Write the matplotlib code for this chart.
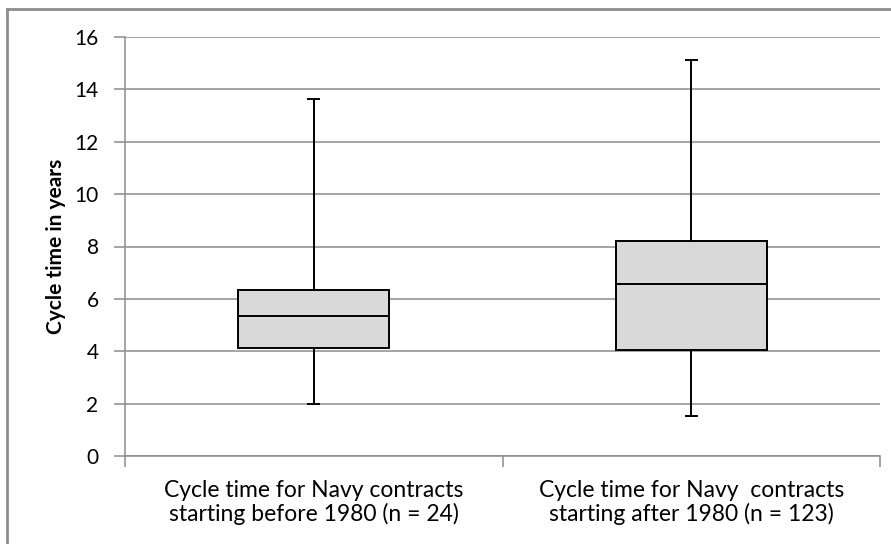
import matplotlib; matplotlib.use("Agg")
import matplotlib.pyplot as plt
from matplotlib.lines import Line2D

categories = ["Cycle time for Navy contracts\nstarting before 1980 (n = 24)",
              "Cycle time for Navy  contracts\nstarting after 1980 (n = 123)"]
whislo = [2.0, 1.52]
q1 = [4.13, 4.05]
med = [5.35, 6.57]
q3 = [6.34, 8.22]
whishi = [13.62, 15.12]

plt.rcParams['font.family'] = ['Lato', 'DejaVu Sans']
GRID = "#8c8c8c"

fig = plt.figure(figsize=(8.91, 5.44), dpi=100)
ax = fig.add_axes([125/891, 1-456/544, 755/891, 419/544])

stats = [dict(whislo=a, q1=b, med=c, q3=d, whishi=e, label=l)
         for a, b, c, d, e, l in zip(whislo, q1, med, q3, whishi, categories)]
pos = [0.5 + i for i in range(len(stats))]
ax.bxp(stats, positions=pos, widths=0.40, showfliers=False, patch_artist=True,
       boxprops=dict(facecolor="#d9d9d9", edgecolor="black", linewidth=1.4),
       medianprops=dict(color="black", linewidth=1.4),
       whiskerprops=dict(color="black", linewidth=1.4),
       capprops=dict(color="black", linewidth=1.4), capwidths=0.028, zorder=3)

ax.set_xlim(0, 2)
ax.set_ylim(0, 16)
ax.set_yticks(range(0, 17, 2))
ax.yaxis.grid(True, color=GRID, linewidth=1.1)
ax.set_axisbelow(True)
ax.set_xticks(pos)
ax.set_xticklabels(categories, fontsize=16.5, linespacing=1.1)
ax.set_xticks([0, 1, 2], minor=True)
ax.tick_params(axis="x", which="major", length=0, pad=17)
ax.tick_params(axis="x", which="minor", length=8, color=GRID, width=1.1)
ax.tick_params(axis="y", length=8, color=GRID, width=1.1, labelsize=15, pad=11)
for s in ["top", "right"]:
    ax.spines[s].set_visible(False)
for s in ["left", "bottom"]:
    ax.spines[s].set_color(GRID)
    ax.spines[s].set_linewidth(1.1)
ax.set_ylabel("Cycle time in years", fontsize=15, fontweight="bold", labelpad=6)

# outer chart frame (cropped)
fig.add_artist(Line2D([7/891, 1], [1-9/544, 1-9/544], color="#8c8c8c", linewidth=2))
fig.add_artist(Line2D([7/891, 7/891], [0, 1-9/544], color="#8c8c8c", linewidth=2))

fig.savefig("out.png", dpi=100)
